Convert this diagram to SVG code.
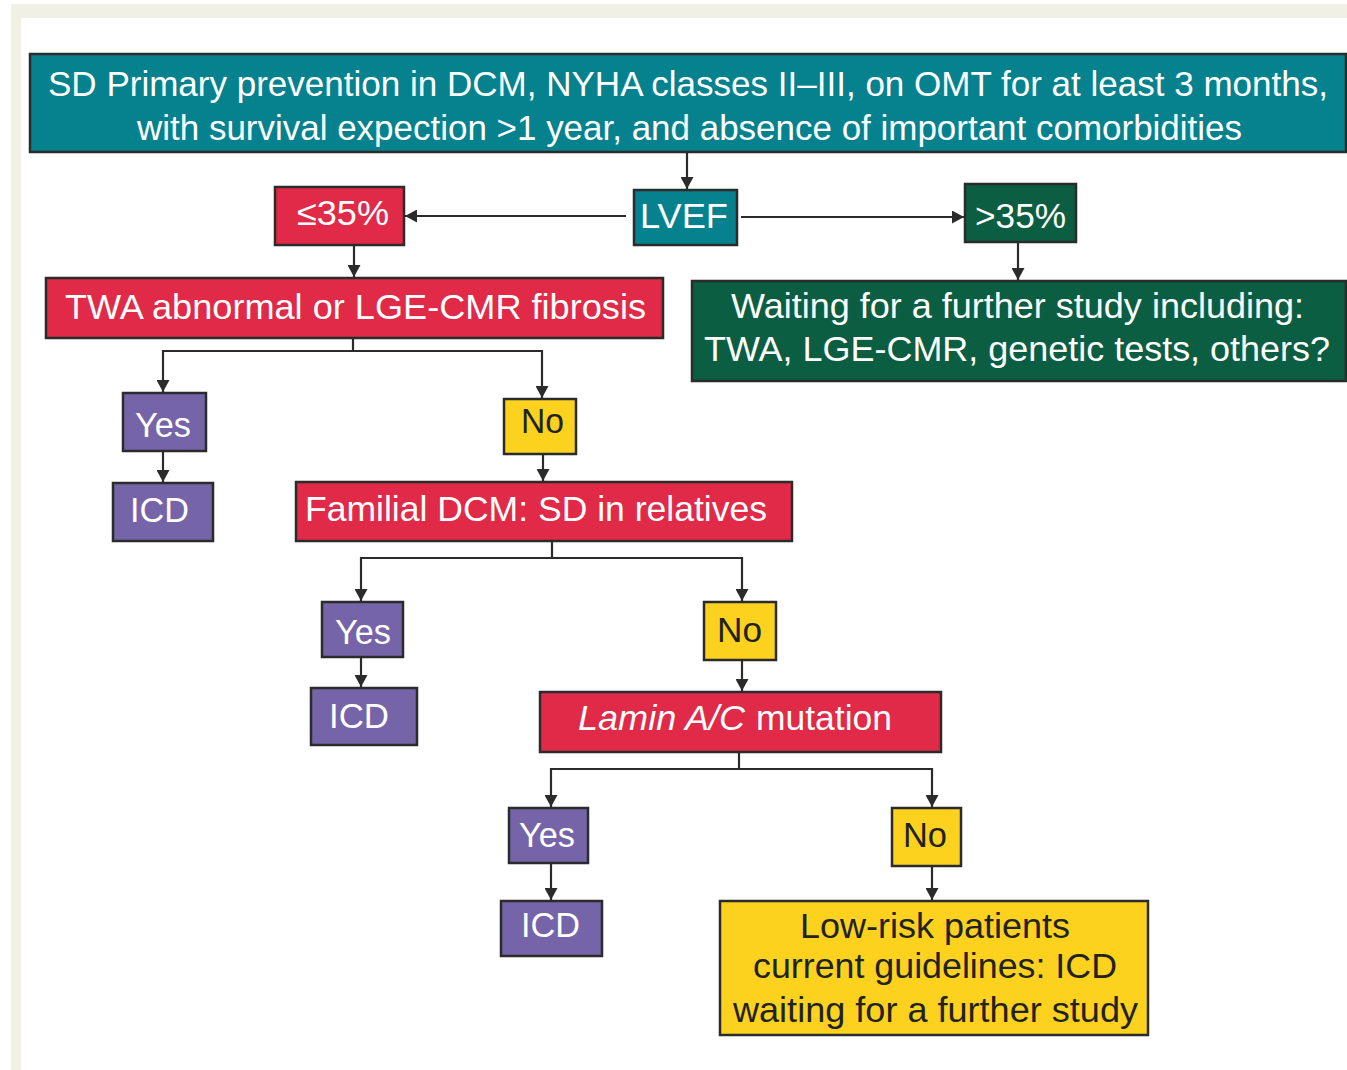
<svg xmlns="http://www.w3.org/2000/svg" width="1347" height="1070" viewBox="0 0 1347 1070">
<style>
.box{stroke:#2b2b2b;stroke-width:2.5}
.teal{fill:#06828f}
.red{fill:#e02a48}
.green{fill:#0c5e43}
.purple{fill:#7664a9}
.yellow{fill:#fcd21f}
.t{font-family:"Liberation Sans",Arial,sans-serif;font-size:35px;fill:#ffffff}
.d{fill:#222222}
.c{fill:none;stroke:#2b2b2b;stroke-width:2.2}
</style>
<defs>
<marker id="ah" markerUnits="userSpaceOnUse" markerWidth="13" markerHeight="13" refX="12" refY="6.5" orient="auto">
<path d="M0,0 L12,6.5 L0,13 z" fill="#2b2b2b"/>
</marker>
</defs>
<rect x="11" y="4" width="1336" height="1066" fill="#f0f0e4"/>
<rect x="21" y="18" width="1326" height="1052" fill="#ffffff"/>

<g id="connectors">
<path class="c" d="M687,153 V189" marker-end="url(#ah)"/>
<path class="c" d="M626,216 H405" marker-end="url(#ah)"/>
<path class="c" d="M741,217 H964" marker-end="url(#ah)"/>
<path class="c" d="M1018,242 V280" marker-end="url(#ah)"/>
<path class="c" d="M354,245 V277" marker-end="url(#ah)"/>
<path class="c" d="M353,338 V351 H163 V392" marker-end="url(#ah)"/>
<path class="c" d="M353,351 H542 V398" marker-end="url(#ah)"/>
<path class="c" d="M163,451 V482" marker-end="url(#ah)"/>
<path class="c" d="M543,454 V481" marker-end="url(#ah)"/>
<path class="c" d="M552,541 V558 H361 V601" marker-end="url(#ah)"/>
<path class="c" d="M552,558 H742 V601" marker-end="url(#ah)"/>
<path class="c" d="M361,657 V687" marker-end="url(#ah)"/>
<path class="c" d="M742,660 V691" marker-end="url(#ah)"/>
<path class="c" d="M739,752 V769 H551 V807" marker-end="url(#ah)"/>
<path class="c" d="M739,769 H932 V807" marker-end="url(#ah)"/>
<path class="c" d="M551,863 V900" marker-end="url(#ah)"/>
<path class="c" d="M932,866 V900" marker-end="url(#ah)"/>
</g>

<g id="header">
<rect class="box teal" x="30" y="54" width="1316" height="98"/>
<text class="t" x="48" y="96" textLength="1280" lengthAdjust="spacingAndGlyphs">SD Primary prevention in DCM, NYHA classes II–III, on OMT for at least 3 months,</text>
<text class="t" x="137" y="140" textLength="1105" lengthAdjust="spacingAndGlyphs">with survival expection &gt;1 year, and absence of important comorbidities</text>
</g>

<g id="lvef">
<rect class="box teal" x="634" y="190" width="103" height="55"/>
<text class="t" x="640" y="228" textLength="88" lengthAdjust="spacingAndGlyphs">LVEF</text>
</g>

<g id="le35">
<rect class="box red" x="275" y="187" width="129" height="58"/>
<text class="t" x="297" y="225" textLength="92" lengthAdjust="spacingAndGlyphs">≤35%</text>
</g>

<g id="gt35">
<rect class="box green" x="965" y="184" width="111" height="58"/>
<text class="t" x="975" y="228" textLength="91" lengthAdjust="spacingAndGlyphs">&gt;35%</text>
</g>

<g id="waiting">
<rect class="box green" x="692" y="281" width="654" height="100"/>
<text class="t" x="731" y="318" textLength="573" lengthAdjust="spacingAndGlyphs">Waiting for a further study including:</text>
<text class="t" x="704" y="361" textLength="626" lengthAdjust="spacingAndGlyphs">TWA, LGE-CMR, genetic tests, others?</text>
</g>

<g id="twa">
<rect class="box red" x="46" y="278" width="617" height="60"/>
<text class="t" x="65" y="319" textLength="581" lengthAdjust="spacingAndGlyphs">TWA abnormal or LGE-CMR fibrosis</text>
</g>

<g id="yes1">
<rect class="box purple" x="123" y="393" width="83" height="58"/>
<text class="t" x="135" y="437" textLength="56" lengthAdjust="spacingAndGlyphs">Yes</text>
</g>

<g id="icd1">
<rect class="box purple" x="113" y="483" width="100" height="58"/>
<text class="t" x="130" y="522" textLength="59" lengthAdjust="spacingAndGlyphs">ICD</text>
</g>

<g id="no1">
<rect class="box yellow" x="504" y="399" width="72" height="55"/>
<text class="t d" x="521" y="433" textLength="43" lengthAdjust="spacingAndGlyphs">No</text>
</g>

<g id="familial">
<rect class="box red" x="296" y="482" width="496" height="59"/>
<text class="t" x="305" y="521" textLength="462" lengthAdjust="spacingAndGlyphs">Familial DCM: SD in relatives</text>
</g>

<g id="yes2">
<rect class="box purple" x="322" y="602" width="81" height="55"/>
<text class="t" x="335" y="644" textLength="56" lengthAdjust="spacingAndGlyphs">Yes</text>
</g>

<g id="icd2">
<rect class="box purple" x="311" y="688" width="106" height="57"/>
<text class="t" x="329" y="728" textLength="60" lengthAdjust="spacingAndGlyphs">ICD</text>
</g>

<g id="no2">
<rect class="box yellow" x="704" y="602" width="72" height="58"/>
<text class="t d" x="717" y="642" textLength="45" lengthAdjust="spacingAndGlyphs">No</text>
</g>

<g id="lamin">
<rect class="box red" x="540" y="692" width="401" height="60"/>
<text class="t" x="578" y="730" font-style="italic" textLength="167" lengthAdjust="spacingAndGlyphs">Lamin A/C</text>
<text class="t" x="756" y="730" textLength="136" lengthAdjust="spacingAndGlyphs">mutation</text>
</g>

<g id="yes3">
<rect class="box purple" x="509" y="808" width="79" height="55"/>
<text class="t" x="519" y="847" textLength="56" lengthAdjust="spacingAndGlyphs">Yes</text>
</g>

<g id="icd3">
<rect class="box purple" x="501" y="901" width="101" height="55"/>
<text class="t" x="521" y="937" textLength="59" lengthAdjust="spacingAndGlyphs">ICD</text>
</g>

<g id="no3">
<rect class="box yellow" x="892" y="808" width="69" height="58"/>
<text class="t d" x="903" y="847" textLength="44" lengthAdjust="spacingAndGlyphs">No</text>
</g>

<g id="lowrisk">
<rect class="box yellow" x="720" y="901" width="428" height="134"/>
<text class="t d" x="800" y="938" textLength="270" lengthAdjust="spacingAndGlyphs">Low-risk patients</text>
<text class="t d" x="753" y="978" textLength="364" lengthAdjust="spacingAndGlyphs">current guidelines: ICD</text>
<text class="t d" x="733" y="1022" textLength="405" lengthAdjust="spacingAndGlyphs">waiting for a further study</text>
</g>
</svg>
